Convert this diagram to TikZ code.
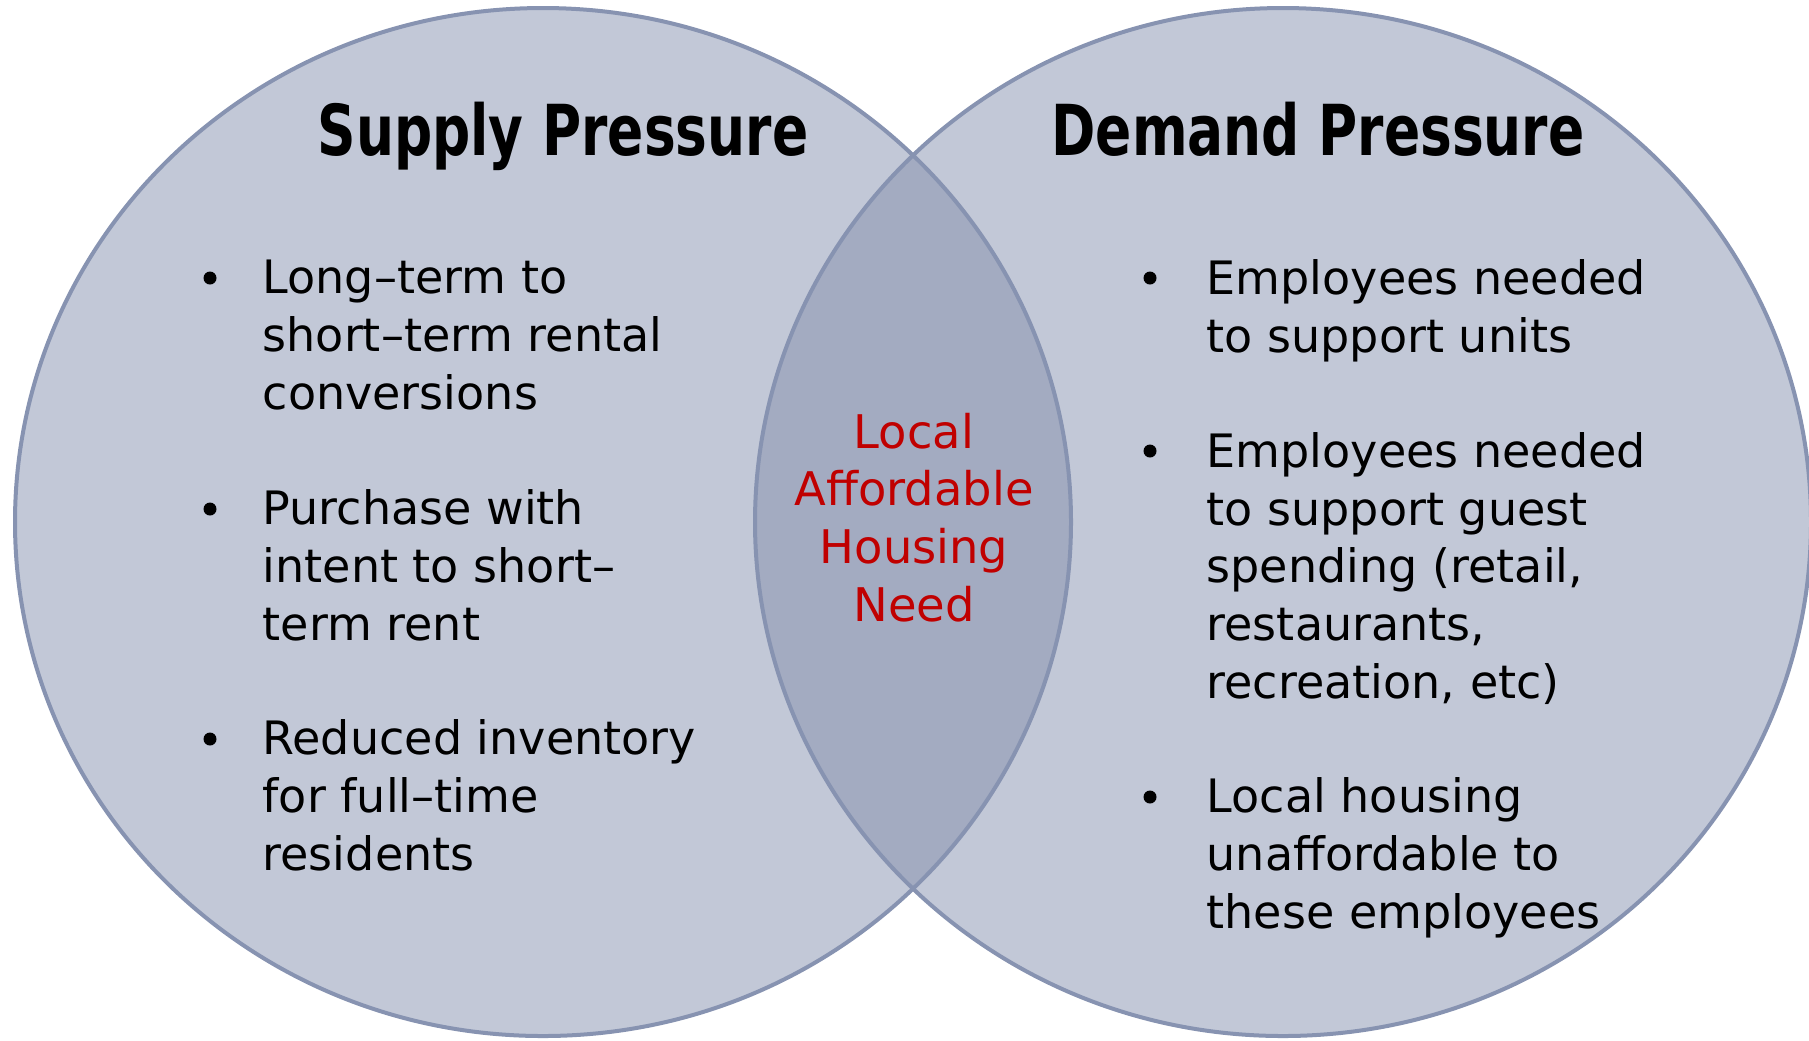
\documentclass[tikz,border=0pt]{standalone}
\usepackage{fontspec}
\setmainfont{DejaVu Sans}
\newfontfamily\headfont{DejaVu Sans}[FakeStretch=0.76]

\definecolor{CircleFill}{HTML}{C2C8D7}
\definecolor{OverlapFill}{HTML}{A3ABC1}
\definecolor{CircleLine}{HTML}{8793B1}
\definecolor{NeedRed}{HTML}{C00000}

\tikzset{
    heading/.style={anchor=base, inner sep=0pt,
        font=\headfont\bfseries\fontsize{20}{24}\selectfont},
    % multi-line nodes sit on the baseline of their last line
    point/.style={anchor=base west, inner sep=0pt, align=left,
        font=\fontsize{13.1}{16.4}\selectfont},
    dot/.style={circle, fill=black, inner sep=0pt, minimum size=1.3mm},
    need/.style={anchor=base, inner sep=0pt, align=center, text=NeedRed,
        font=\fontsize{13.2}{16.4}\selectfont},
    ring/.style={draw=CircleLine, line width=0.4mm}
}

\begin{document}
\begin{tikzpicture}[x=0.1mm, y=-0.1mm]

    \useasboundingbox (0,0) rectangle (1809,1040);

    \coordinate (L) at (543,522);
    \coordinate (R) at (1283,522);

    % the two sets and their overlap
    \fill [CircleFill] (L) ellipse [x radius=5.28cm, y radius=5.14cm];
    \fill [CircleFill] (R) ellipse [x radius=5.28cm, y radius=5.14cm];
    \begin{scope}
        \clip (L) ellipse [x radius=5.28cm, y radius=5.14cm];
        \fill [OverlapFill] (R) ellipse [x radius=5.28cm, y radius=5.14cm];
    \end{scope}
    \draw [ring] (L) ellipse [x radius=5.28cm, y radius=5.14cm];
    \draw [ring] (R) ellipse [x radius=5.28cm, y radius=5.14cm];

    \node [heading] (supply) at (563,155) {Supply Pressure};
    \node [heading] (demand) at (1318,155) {Demand Pressure};

    % supply side
    \node [dot] (sb1) at (210,278) {};
    \node [point] (s1) at (262,409) {Long–term to\\short–term rental\\conversions};
    \node [dot] (sb2) at (210,509) {};
    \node [point] (s2) at (262,640) {Purchase with\\intent to short–\\term rent};
    \node [dot] (sb3) at (210,739) {};
    \node [point] (s3) at (262,870) {Reduced inventory\\for full–time\\residents};

    % demand side
    \node [dot] (db1) at (1150,278) {};
    \node [point] (d1) at (1206,352) {Employees needed\\to support units};
    \node [dot] (db2) at (1150,451) {};
    \node [point] (d2) at (1206,698) {Employees needed\\to support guest\\spending (retail,\\restaurants,\\recreation, etc)};
    \node [dot] (db3) at (1150,797) {};
    \node [point] (d3) at (1206,928) {Local housing\\unaffordable to\\these employees};

    \node [need] (need) at (914,621) {Local\\Affordable\\Housing\\Need};

\end{tikzpicture}
\end{document}
